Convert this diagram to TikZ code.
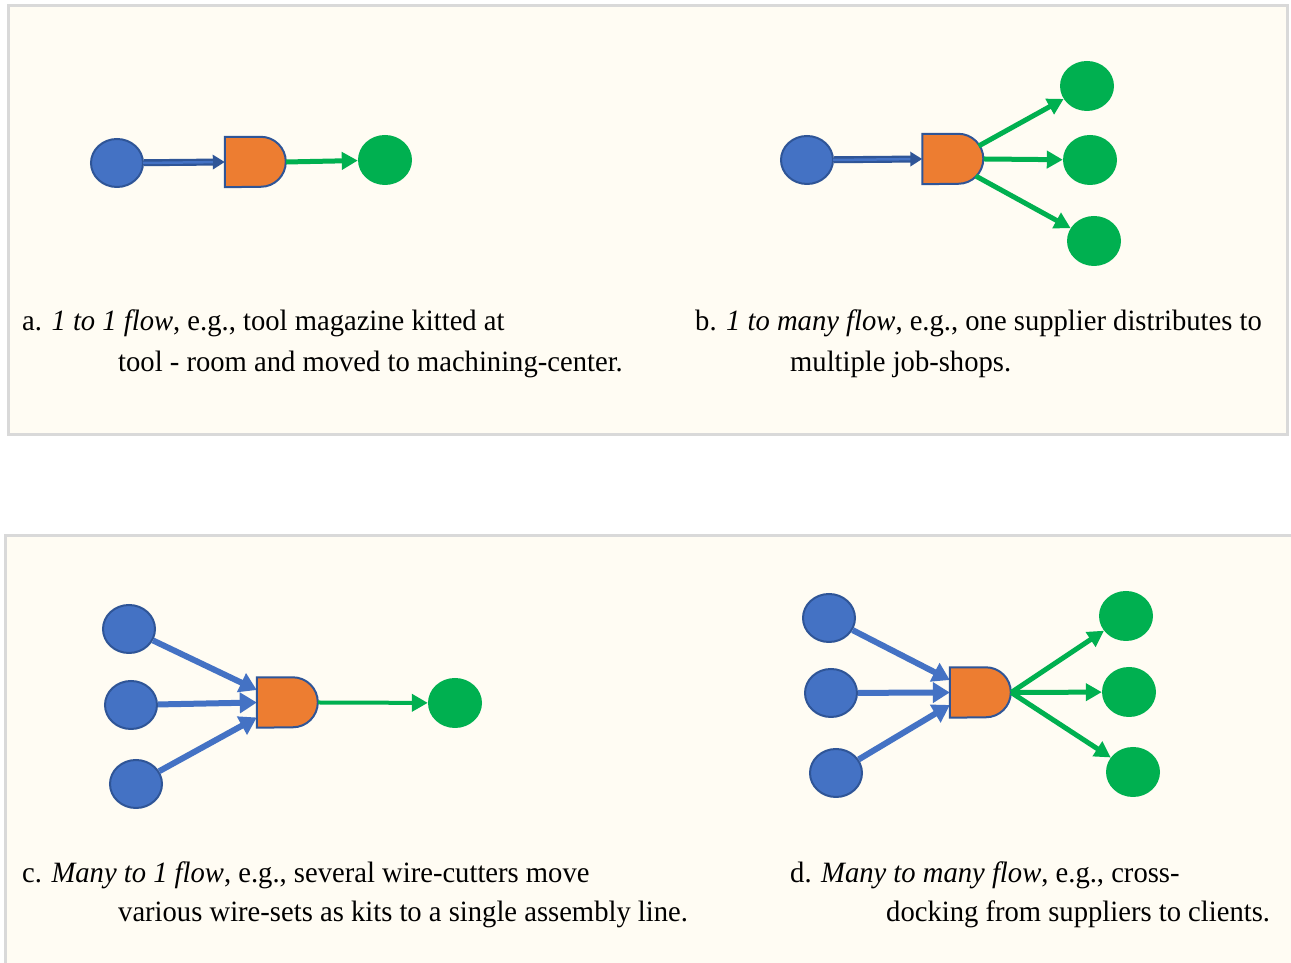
\documentclass[tikz,border=0pt]{standalone}
\usepackage{fontspec}
\setmainfont{Liberation Serif}
\usetikzlibrary{arrows.meta,calc,shapes.geometric}
\definecolor{bgfill}{HTML}{FFFCF3}
\definecolor{boxline}{HTML}{D9D9D9}
\definecolor{bluefill}{HTML}{4472C4}
\definecolor{blueline}{HTML}{2F5597}
\definecolor{orangefill}{HTML}{ED7D31}
\definecolor{greenfill}{HTML}{00B050}
\tikzset{
  x=1pt,y=1pt,
  panel/.style={draw=boxline, line width=3pt, fill=bgfill},
  src/.style={ellipse, draw=blueline, line width=2pt, fill=bluefill, minimum width=52pt, minimum height=48pt, inner sep=0pt},
  dst/.style={ellipse, fill=greenfill, minimum width=54pt, minimum height=50pt, inner sep=0pt},
  gatebox/.style={rectangle, minimum width=61pt, minimum height=50pt, inner sep=0pt},
  gateline/.style={draw=blueline, line width=2pt, fill=orangefill, line join=miter},
  garrow/.style={draw=greenfill, line width=5pt, -{Triangle[length=16pt,width=17pt]}},
  barrow/.style={draw=bluefill, line width=6pt, -{Triangle[length=17pt,width=20pt]}},
  dblarrow/.style={draw=blueline, line width=7pt, -{Triangle[length=12pt,width=14pt]}},
  cap1/.style={anchor=base west, inner sep=0pt, xscale=0.97, font=\fontsize{29.5}{34}\selectfont},
}
\newcommand{\gateshape}[1]{%
  \draw[gateline] (#1.south west) -- (#1.north west) -- ++(36,0)
    arc[start angle=90, end angle=-90, radius=25] -- cycle;}
\begin{document}
\begin{tikzpicture}
\useasboundingbox (0,0) rectangle (1291,963);
% panels
\draw[panel] (8,957) rectangle (1287,528);
\draw[panel] (5,427) rectangle (1300,-10);

% ---------- a ----------
\node[src] (a1) at (117,800) {};
\node[gatebox] (ag) at (255.5,801) {};
\node[dst] (ad) at (385,803) {};
\draw[dblarrow] (a1) -- (ag.west);
\draw[draw=bluefill, line width=2.5pt, shorten >=12pt] (a1.east) ++(-1,0) -- (ag.west);
\gateshape{ag}
\draw[garrow] (ag.east) -- (ad);

% ---------- b ----------
\node[src] (b1) at (807,803) {};
\node[gatebox] (bg) at (953,804) {};
\node[dst] (bd1) at (1087,877) {};
\node[dst] (bd2) at (1090,803) {};
\node[dst] (bd3) at (1094,722) {};
\draw[dblarrow] (b1) -- (bg.west);
\draw[draw=bluefill, line width=2.5pt, shorten >=12pt] (b1.east) ++(-1,0) -- (bg.west);
\gateshape{bg}
\draw[garrow] ([shift={(-5,13)}]bg.east) -- (bd1);
\draw[garrow] (bg.east) -- (bd2);
\draw[garrow] ([shift={(-8,-17)}]bg.east) -- (bd3);

% ---------- c ----------
\node[src] (c1) at (129,334) {};
\node[src] (c2) at (131,258) {};
\node[src] (c3) at (136,179) {};
\node[gatebox] (cg) at (287.5,260.5) {};
\node[dst] (cd) at (455,260) {};
\draw[barrow] (c1) -- ([yshift=12.5pt]cg.west);
\draw[barrow] (c2) -- (cg.west);
\draw[barrow] (c3) -- ([yshift=-15pt]cg.west);
\gateshape{cg}
\draw[garrow, line width=4pt] (cg.east) -- (cd);

% ---------- d ----------
\node[src] (d1) at (829,345) {};
\node[src] (d2) at (831,270) {};
\node[src] (d3) at (836,190) {};
\node[gatebox] (dg) at (980.5,270.5) {};
\node[dst] (dd1) at (1126,347) {};
\node[dst] (dd2) at (1129,271) {};
\node[dst] (dd3) at (1133,191) {};
\draw[barrow] (d1) -- ([yshift=12.5pt]dg.west);
\draw[barrow] (d2) -- (dg.west);
\draw[barrow] (d3) -- ([yshift=-12.5pt]dg.west);
\gateshape{dg}
\draw[garrow] (dg.east) -- (dd1);
\draw[garrow] (dg.east) -- (dd2);
\draw[garrow] (dg.east) -- (dd3);

% ---------- captions ----------
\node[cap1] (ta1) at (22,632) {a. \textit{1 to 1 flow}, e.g., tool magazine kitted at};
\node[cap1] (ta2) at (118,591) {tool - room and moved to machining-center.};
\node[cap1] (tb1) at (695,632) {b. \textit{1 to many flow}, e.g., one supplier distributes to};
\node[cap1] (tb2) at (790,591) {multiple job-shops.};
\node[cap1] (tc1) at (22,80) {c. \textit{Many to 1 flow}, e.g., several wire-cutters move};
\node[cap1] (tc2) at (118,41) {various wire-sets as kits to a single assembly line.};
\node[cap1] (td1) at (790,80) {d. \textit{Many to many flow}, e.g., cross-};
\node[cap1] (td2) at (886,41) {docking from suppliers to clients.};
\end{tikzpicture}
\end{document}
